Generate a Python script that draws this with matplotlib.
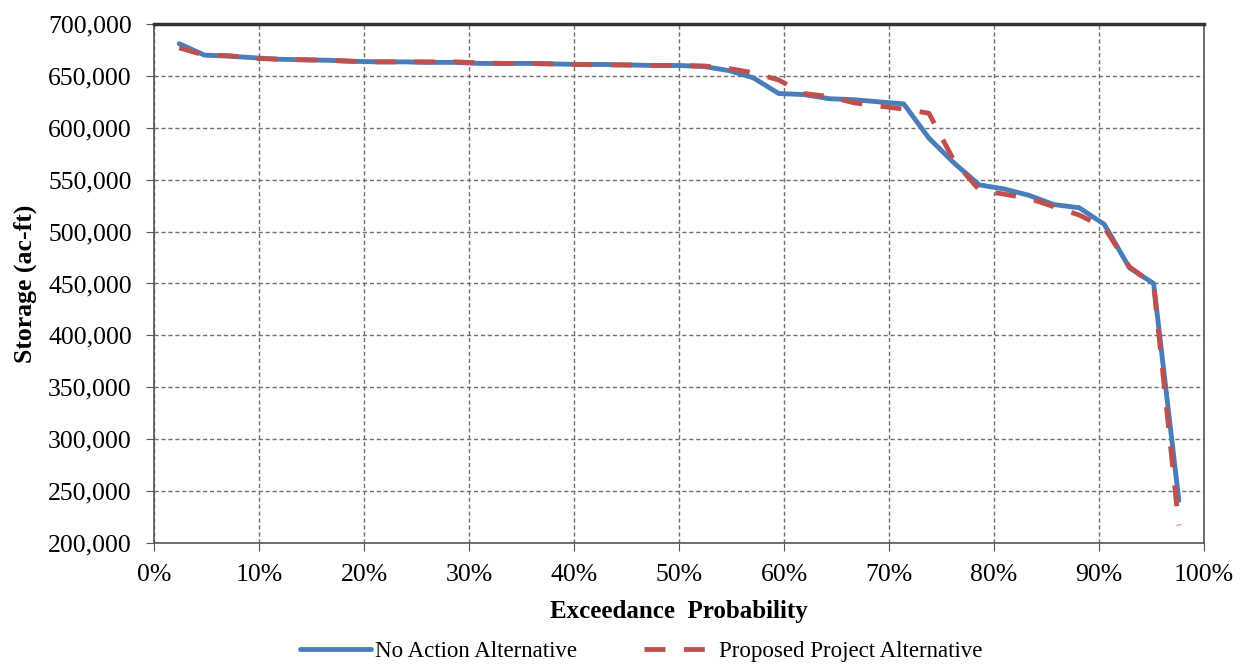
import matplotlib
matplotlib.use("Agg")
import matplotlib.pyplot as plt
from matplotlib.ticker import FuncFormatter, MultipleLocator

plt.rcParams['font.family'] = ['Liberation Serif', 'DejaVu Serif']

# exceedance probability (%) of each ranked year
exceedance = [2.4, 4.8, 7.1, 9.5, 11.9, 14.3, 16.7, 19.0, 21.4, 23.8,
              26.2, 28.6, 31.0, 33.3, 35.7, 38.1, 40.5, 42.9, 45.2, 47.6,
              50.0, 52.4, 54.8, 57.1, 59.5, 61.9, 64.3, 66.7, 69.0, 71.4,
              73.8, 76.2, 78.6, 81.0, 83.3, 85.7, 88.1, 90.5, 92.9, 95.2, 97.6]

# storage (ac-ft)
no_action = [681000, 670000, 669000, 667500, 666000, 665500, 665000, 664000, 663500, 663500,
             663000, 663000, 662000, 662000, 662000, 661500, 661000, 661000, 660500, 660000,
             660000, 659000, 655000, 648000, 633000, 632000, 628000, 627000, 625000, 623000,
             590000, 566000, 545000, 541000, 535000, 526000, 523000, 507000, 465000, 450000, 241000]

proposed = [677000, 670000, 669500, 667000, 666000, 665500, 665000, 664000, 663500, 663500,
            663500, 663500, 662500, 662000, 662000, 661500, 661000, 660500, 660500, 660000,
            660000, 659500, 657000, 653000, 646000, 633000, 630000, 624000, 621000, 618000,
            614000, 568000, 540000, 536000, 532000, 524000, 516000, 504000, 466000, 449000, 217000]

fig = plt.figure(figsize=(12.45, 6.66), dpi=100)
ax = fig.add_axes([0.1237, 0.1847, 0.8434, 0.7793])

ax.plot(exceedance, no_action, color='#4A7EBB', linewidth=3.5,
        label='No Action Alternative', solid_capstyle='round', zorder=3)
ax.plot(exceedance, proposed, color='#C0504D', linewidth=3.5, linestyle=(0, (4.3, 3.8)),
        label='Proposed Project Alternative', zorder=4)

ax.set_xlim(0, 100)
ax.set_ylim(200000, 700000)
ax.xaxis.set_major_locator(MultipleLocator(10))
ax.yaxis.set_major_locator(MultipleLocator(50000))
ax.xaxis.set_major_formatter(FuncFormatter(lambda v, p: f"{v:.0f}%"))
ax.yaxis.set_major_formatter(FuncFormatter(lambda v, p: f"{v:,.0f}"))

ax.grid(True, color='#707070', linestyle=(0, (3, 2)), linewidth=1.0)
ax.set_axisbelow(True)
for s in ax.spines.values():
    s.set_color('#555555')
    s.set_linewidth(1.2)
ax.spines['top'].set_linewidth(2.5)
ax.spines['top'].set_color('#333333')

ax.tick_params(direction='out', length=6, color='#555555', labelsize=18.5, pad=10)
ax.tick_params(axis='x', pad=9)

ax.set_xlabel('Exceedance  Probability', fontsize=18, fontweight='bold', labelpad=10)
ax.set_ylabel('Storage (ac-ft)', fontsize=18.5, fontweight='bold', labelpad=8)

fig.legend(loc='lower center', bbox_to_anchor=(0.515, -0.025), ncol=2, frameon=False,
           fontsize=16.5, handlelength=3.1, handletextpad=0.2, columnspacing=2.9)

fig.savefig('out.png', dpi=100)
